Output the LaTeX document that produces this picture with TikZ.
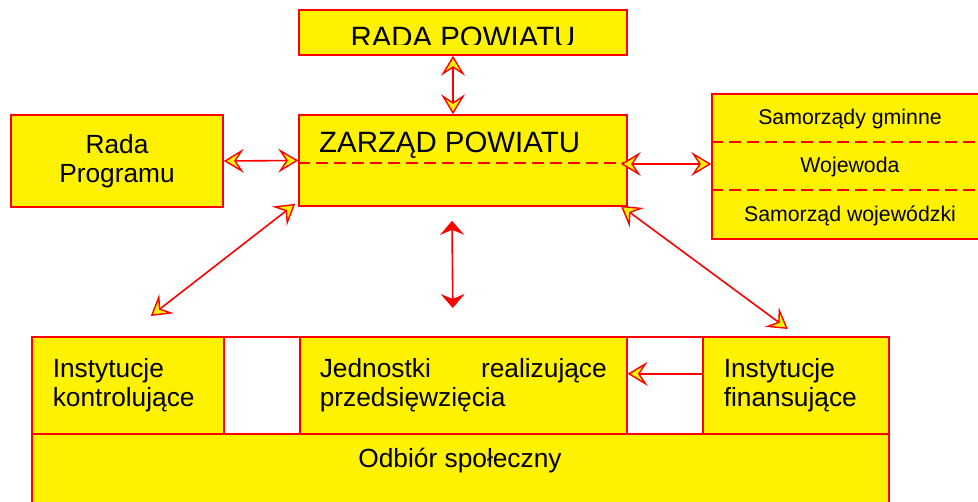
\documentclass[tikz,border=0pt]{standalone}
\usepackage{fontspec}
\setmainfont{Liberation Sans}
\usetikzlibrary{arrows.meta}

\tikzset{
	kasten/.style={draw=red,fill=yellow,line width=1.6pt,inner sep=0pt},
	trenn/.style={draw=red,line width=1.6pt,dash pattern=on 12pt off 6pt},
	pfeil/.style={draw=red,line width=1.6pt},
	zw/.tip={Stealth[length=20pt,width=24pt,inset=8pt,fill=yellow,line width=1.4pt]},
	zs/.tip={Stealth[length=14pt,width=24pt,inset=5pt]},
	gross/.style={font=\fontsize{29.4}{33}\selectfont,inner sep=0pt},
	mittel/.style={font=\fontsize{26.3}{29.5}\selectfont},
	klein/.style={font=\fontsize{21.3}{24}\selectfont,inner sep=0pt}
}

\begin{document}
\begin{tikzpicture}[x=1pt,y=-1pt]
	\clip (0,0) rectangle (978,502);
	% obere Reihe
	\node[kasten,minimum width=328pt,minimum height=45pt] (rada) at (463,32.5) {};
	\begin{scope}
		\clip (299,10) rectangle (627,44.5);
		\node[gross,anchor=base] (radatxt) at (463,48) {RADA POWIATU};
	\end{scope}
	\node[kasten,mittel,minimum width=212pt,minimum height=92pt,align=center] (program) at (117,161) {Rada\\Programu};
	\node[kasten,minimum width=328pt,minimum height=91pt] (zarzad) at (463,160.5) {};
	\node[gross,anchor=base west] (zarzadtxt) at (319,153) {ZARZĄD POWIATU};
	\draw[trenn] ([yshift=-2.5pt]zarzad.west) -- ([yshift=-2.5pt]zarzad.east);
	\node[kasten,minimum width=273pt,minimum height=145pt] (gminy) at (848.5,166.5) {};
	\draw[trenn] ([yshift=-49pt]gminy.north west) -- ([yshift=-49pt]gminy.north east);
	\draw[trenn] ([yshift=-97pt]gminy.north west) -- ([yshift=-97pt]gminy.north east);
	\foreach \n/\y/\t in {sg/125/Samorządy gminne,woj/173/Wojewoda,sw/222/Samorząd wojewódzki}{
		\node[klein,anchor=base] (\n) at (850,\y) {\t};
	}
	% untere Reihe
	\node[kasten,fill=white,minimum width=857pt,minimum height=180pt,anchor=north west] (rahmen) at (31,336) {};
	\node[kasten,minimum width=857pt,minimum height=80pt,anchor=north west] (odbior) at (31,433) {};
	\node[mittel,anchor=base,inner sep=0pt] (odbiortxt) at (460,468) {Odbiór społeczny};
	\node[kasten,mittel,minimum width=192pt,minimum height=97pt,anchor=north west,
		text width=150pt,inner xsep=21pt,align=left] (kontrol) at (31,336) {Instytucje\\kontrolujące};
	\node[kasten,mittel,minimum width=327pt,minimum height=97pt,anchor=north west,
		text width=287pt,inner xsep=20pt,align=left] (jedn) at (299,336) {Jednostki\hfill realizujące\\przedsięwzięcia};
	\node[kasten,mittel,minimum width=186pt,minimum height=97pt,anchor=north west,
		text width=144pt,inner xsep=21pt,align=left] (finans) at (702,336) {Instytucje\\finansujące};
	% Pfeile
	\draw[pfeil,zw-zw] ([xshift=-10pt]rada.south) -- ([xshift=-10pt]zarzad.north);
	\draw[pfeil,zw-zw] (program.east) -- (zarzad.west);
	\draw[pfeil,zw-zw] ([xshift=-7pt,yshift=-3.5pt]zarzad.east) -- ([yshift=2.5pt]gminy.west);
	\draw[pfeil,zw-zw] ([shift={(-3pt,3pt)}]zarzad.south west) -- ([shift={(23pt,20pt)}]kontrol.north);
	\draw[pfeil,zw-zw] ([shift={(-7pt,1pt)}]zarzad.south east) -- ([shift={(-8pt,7pt)}]finans.north);
	\draw[pfeil,zs-zs] ([shift={(-11pt,-14pt)}]zarzad.south) -- ([shift={(-10.5pt,28pt)}]jedn.north);
	\draw[pfeil,-zw] ([yshift=11.5pt]finans.west) -- ([yshift=11.5pt]jedn.east);
\end{tikzpicture}
\end{document}
